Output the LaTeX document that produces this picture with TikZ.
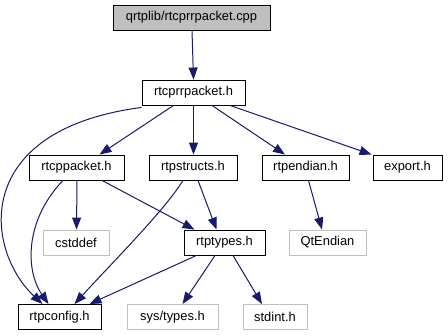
\documentclass[tikz,border=0pt]{standalone}
\usepackage{fontspec}
\setmainfont{Liberation Sans}
\usetikzlibrary{arrows.meta}
\definecolor{edgeblue}{HTML}{191970}
\definecolor{boxgrey}{HTML}{BFBFBF}
\tikzset{
  x=1pt, y=-1pt,
  file/.style={draw=black, line width=0.9pt, inner sep=0pt, minimum height=25pt,
    font=\fontsize{12.9}{15}\selectfont, text=black},
  rootfile/.style={file, fill=boxgrey},
  sysfile/.style={file, draw=boxgrey},
  dep/.style={draw=edgeblue, line width=1pt,
    -{Triangle[length=12pt,width=9pt,fill=edgeblue]}},
}
\begin{document}
\begin{tikzpicture}
\useasboundingbox[fill=white] (0,0) rectangle (448,336);

% include graph nodes
\node[rootfile, minimum width=157pt] (cpp)   at (191.5,17.5)  {qrtplib/rtcprrpacket.cpp};
\node[file, minimum width=103pt] (rtcprr)    at (193.5,92.5)  {rtcprrpacket.h};
\node[file, minimum width=95pt]  (rtcp)      at (76.5,167.5)  {rtcppacket.h};
\node[file, minimum width=88pt]  (structs)   at (193,167.5)   {rtpstructs.h};
\node[file, minimum width=87pt]  (endian)    at (305.5,167.5) {rtpendian.h};
\node[file, minimum width=69pt]  (export)    at (407.5,167.5) {export.h};
\node[sysfile, minimum width=66pt] (cstddef) at (76,242.5)    {cstddef};
\node[file, minimum width=81pt]  (types)     at (224.5,242.5) {rtptypes.h};
\node[sysfile, minimum width=77pt] (qtend)   at (327.5,242.5) {QtEndian};
\node[file, minimum width=83pt]  (config)    at (59.5,317)    {rtpconfig.h};
\node[sysfile, minimum width=91pt] (systypes) at (172.5,317)  {sys/types.h};
\node[sysfile, minimum width=64pt] (stdint)  at (275,317)     {stdint.h};

% include edges
\draw[dep] ([xshift=0.5pt]cpp.south) -- (rtcprr.north);
\draw[dep] ([xshift=-20pt]rtcprr.south) -- ([xshift=23pt]rtcp.north);
\draw[dep] (rtcprr.south) -- ([xshift=0.5pt]structs.north);
\draw[dep] ([xshift=18.5pt]rtcprr.south) -- ([xshift=-20.5pt]endian.north);
\draw[dep] ([xshift=36.5pt]rtcprr.south) -- ([xshift=-1pt]export.north west);
\draw[dep] ([yshift=-2pt]rtcprr.south west) .. controls (-30,130) and (-15,250) .. ([xshift=-17pt]config.north);
\draw[dep] ([xshift=-13.5pt]rtcp.south) .. controls (25,220) and (25,270) .. ([xshift=-11pt]config.north);
\draw[dep] ([xshift=0.5pt]rtcp.south) -- ([xshift=0.5pt]cstddef.north);
\draw[dep] ([xshift=25.5pt]rtcp.south) -- ([xshift=-30pt]types.north);
\draw[dep] ([xshift=5pt]structs.south) -- ([xshift=-8pt]types.north);
\draw[dep] ([xshift=-10pt]structs.south) .. controls (165,210) and (110,265) .. ([xshift=15pt]config.north);
\draw[dep] ([xshift=-28pt]types.south) -- ([xshift=30pt]config.north);
\draw[dep] ([xshift=-9.5pt]types.south) -- ([xshift=10pt]systypes.north);
\draw[dep] ([xshift=8.5pt]types.south) -- ([xshift=-13pt]stdint.north);
\draw[dep] ([xshift=3pt]endian.south) -- ([xshift=-5.5pt]qtend.north);
\end{tikzpicture}
\end{document}
